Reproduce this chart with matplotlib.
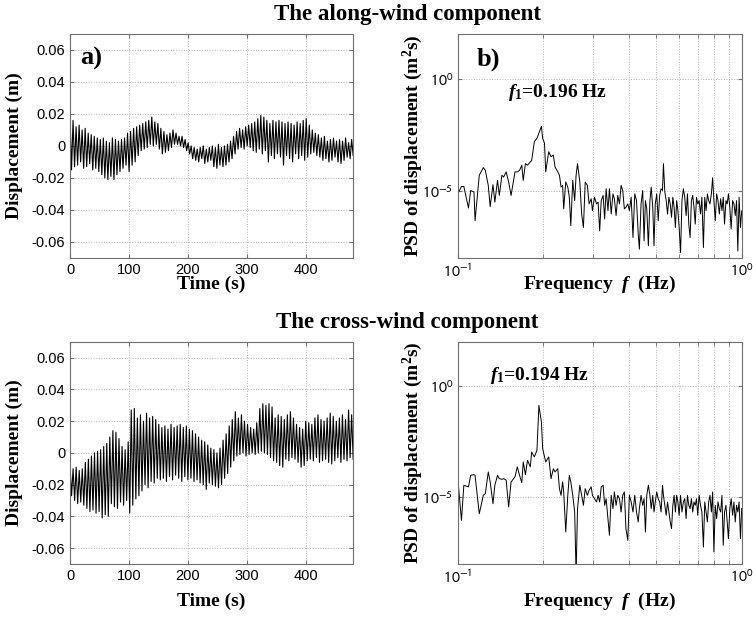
import numpy as np
import matplotlib
matplotlib.use("Agg")
import matplotlib.pyplot as plt
from matplotlib.ticker import FixedLocator, NullFormatter, NullLocator

# --- time series: peak / trough of each oscillation cycle, in mm ---
along_peaks = [18, 16, 12, 13, 10, 11, 8, 7, 6, 5,
               4, 5, 3, 2, 5, 4, 3, 4, 5, 8,
               9, 11, 12, 13, 14, 15, 16, 18, 15, 14,
               11, 9, 7, 8, 10, 8, 6, 6, 4, 2,
               0, -1, -2, -1, 0, -2, -1, 0, -1, 1,
               -1, 0, 1, 3, 6, 9, 11, 10, 12, 13,
               14, 15, 17, 19, 18, 16, 14, 16, 15, 16,
               15, 14, 15, 14, 13, 15, 14, 16, 17, 13,
               10, 8, 7, 5, 6, 3, 4, 5, 3, 4,
               3, 5, 2, 4]
along_troughs = [-15, -13, -12, -10, -14, -13, -11, -15, -14, -16,
                 -18, -20, -21, -19, -21, -18, -16, -14, -12, -16,
                 -12, -10, -6, -3, -2, -1, 1, 0, 1, -2,
                 -5, -4, -3, -1, 1, 1, 0, -1, -3, -5,
                 -8, -9, -10, -8, -11, -10, -9, -13, -14, -12,
                 -13, -12, -10, -8, -5, -2, -1, -2, 0, -1,
                 -3, -4, -2, -5, -3, -10, -6, -8, -5, -7,
                 -12, -6, -8, -10, -5, -8, -6, -9, -7, -5,
                 -4, -6, -7, -9, -8, -10, -9, -7, -10, -11,
                 -9, -7, -8, -6]

cross_peaks = [-8, -10, -9, -11, -10, -6, -4, -2, 0, 1,
               2, 4, 6, 10, 14, 13, 9, 4, 2, 7,
               27, 28, 22, 24, 20, 25, 22, 23, 21, 18,
               16, 17, 15, 18, 16, 17, 18, 16, 17, 15,
               14, 12, 10, 8, 7, 5, 3, 2, 0, 3,
               8, 12, 17, 21, 26, 22, 24, 20, 18, 16,
               15, 19, 28, 31, 30, 31, 29, 22, 24, 23,
               21, 24, 26, 22, 18, 16, 15, 20, 19, 18,
               22, 24, 21, 20, 22, 25, 23, 20, 22, 24,
               21, 27, 24]
cross_troughs = [-27, -30, -32, -31, -33, -35, -37, -36, -38, -37,
                 -41, -39, -40, -32, -34, -35, -31, -33, -30, -38,
                 -33, -29, -27, -24, -20, -22, -18, -19, -16, -17,
                 -16, -18, -15, -17, -14, -16, -18, -15, -17, -16,
                 -18, -17, -19, -20, -23, -19, -20, -21, -22, -20,
                 -16, -13, -9, -5, -2, -1, 0, -2, -1, 0,
                 -1, 0, 1, 0, -1, -3, -5, -6, -8, -9,
                 -4, -5, -3, -4, -6, -9, -8, -5, -4, -5,
                 -3, -6, -5, -4, -6, -7, -5, -3, -6, -4,
                 -5, -3, -4]

record_length = 480  # s

# --- PSD: frequency (Hz) and log10 of PSD (m^2 s) ---
freq = [0.100, 0.103, 0.105, 0.109, 0.111, 0.114, 0.115, 0.119, 0.123, 0.125,
        0.128, 0.130, 0.133, 0.135, 0.138, 0.140, 0.143, 0.145, 0.148, 0.151,
        0.154, 0.159, 0.162, 0.165, 0.168, 0.170, 0.173, 0.176, 0.180, 0.182,
        0.186, 0.190, 0.193, 0.197, 0.199, 0.202, 0.204, 0.209, 0.213, 0.217,
        0.220, 0.225, 0.228, 0.231, 0.234, 0.236, 0.240, 0.244, 0.247, 0.250,
        0.254, 0.258, 0.261, 0.264, 0.269, 0.273, 0.277, 0.281, 0.286, 0.290,
        0.295, 0.298, 0.303, 0.308, 0.312, 0.316, 0.320, 0.325, 0.329, 0.333,
        0.338, 0.342, 0.347, 0.352, 0.356, 0.361, 0.366, 0.371, 0.376, 0.381,
        0.386, 0.391, 0.397, 0.402, 0.408, 0.414, 0.420, 0.426, 0.432, 0.436,
        0.442, 0.448, 0.453, 0.458, 0.463, 0.469, 0.475, 0.480, 0.486, 0.491,
        0.496, 0.502, 0.508, 0.514, 0.520, 0.526, 0.530, 0.536, 0.542, 0.548,
        0.554, 0.560, 0.566, 0.572, 0.578, 0.584, 0.590, 0.596, 0.602, 0.609,
        0.616, 0.623, 0.630, 0.637, 0.644, 0.651, 0.658, 0.665, 0.672, 0.679,
        0.686, 0.693, 0.700, 0.708, 0.716, 0.724, 0.733, 0.741, 0.749, 0.757,
        0.765, 0.773, 0.782, 0.790, 0.798, 0.807, 0.816, 0.825, 0.834, 0.843,
        0.852, 0.861, 0.870, 0.880, 0.889, 0.898, 0.908, 0.918, 0.929, 0.939,
        0.949, 0.959, 0.969, 0.979, 0.990, 1.000]

along_psd_log = [-5.14, -4.81, -4.81, -5.77, -4.99, -5.06, -6.34, -4.31, -3.97, -4.09,
                 -4.76, -5.71, -4.73, -5.51, -4.54, -5.21, -4.31, -4.39, -4.16, -4.61,
                 -5.21, -4.16, -4.16, -4.09, -3.86, -4.54, -3.79, -3.86, -3.71, -3.66,
                 -2.81, -2.66, -2.43, -2.13, -2.66, -2.88, -4.16, -3.26, -3.48, -3.41,
                 -3.94, -4.16, -4.31, -4.84, -4.76, -5.81, -4.61, -4.84, -5.29, -6.56,
                 -4.54, -5.44, -4.31, -3.79, -4.61, -6.04, -6.64, -4.61, -4.76, -5.59,
                 -5.36, -5.89, -5.29, -5.59, -5.51, -6.79, -5.44, -5.21, -6.26, -4.91,
                 -5.89, -4.91, -6.04, -5.14, -5.36, -6.11, -5.21, -5.59, -4.76, -4.99,
                 -5.81, -5.74, -5.59, -5.89, -5.29, -7.09, -5.14, -5.44, -6.94, -7.61,
                 -5.59, -4.99, -7.24, -5.44, -5.81, -7.46, -5.44, -4.84, -5.74, -7.46,
                 -5.59, -5.14, -6.34, -5.21, -4.91, -4.99, -3.79, -5.06, -5.44, -6.04,
                 -5.29, -5.59, -6.19, -5.29, -5.74, -6.64, -5.44, -5.89, -6.64, -7.76,
                 -5.44, -4.91, -5.29, -6.11, -5.14, -6.49, -7.09, -5.44, -5.21, -5.74,
                 -6.49, -5.29, -5.59, -5.44, -6.04, -5.29, -7.54, -5.29, -5.89, -5.14,
                 -5.44, -5.59, -5.14, -4.42, -5.44, -6.34, -5.14, -5.44, -6.04, -5.36,
                 -5.89, -5.29, -6.49, -5.44, -5.59, -5.14, -5.74, -6.71, -5.44, -5.59,
                 -6.11, -5.44, -7.69, -5.29, -6.64, -5.90]

cross_psd_log = [-4.16, -6.04, -4.46, -4.53, -4.01, -3.98, -4.01, -5.74, -4.91, -4.83,
                 -3.86, -4.31, -5.29, -4.46, -4.01, -4.16, -4.19, -4.16, -4.23, -5.43,
                 -4.31, -4.08, -3.63, -4.01, -4.34, -3.41, -3.98, -3.33, -3.63, -2.96,
                 -3.18, -2.88, -0.86, -1.61, -2.81, -3.18, -3.41, -3.18, -4.16, -3.71,
                 -3.86, -3.71, -4.61, -4.91, -4.31, -4.76, -6.56, -4.91, -4.01, -4.31,
                 -4.91, -5.66, -8.50, -5.51, -4.46, -4.91, -5.36, -4.61, -4.91, -4.68,
                 -4.53, -4.91, -5.06, -5.21, -4.91, -5.21, -4.53, -4.46, -5.36, -5.06,
                 -5.96, -6.71, -4.91, -5.51, -4.76, -5.36, -4.91, -5.06, -5.66, -4.91,
                 -4.76, -6.41, -6.94, -4.91, -5.21, -5.66, -4.91, -5.66, -6.11, -5.51,
                 -4.91, -5.36, -5.06, -6.56, -4.91, -4.46, -4.91, -5.51, -4.91, -5.66,
                 -5.21, -4.76, -5.06, -5.21, -5.66, -4.46, -4.91, -5.36, -5.81, -5.21,
                 -5.66, -6.11, -6.41, -5.36, -4.91, -5.66, -4.91, -5.21, -5.81, -4.91,
                 -5.66, -5.21, -5.06, -5.96, -4.91, -5.36, -5.51, -5.06, -5.66, -5.21,
                 -5.36, -5.06, -5.81, -4.91, -5.36, -5.66, -7.24, -5.21, -5.66, -6.11,
                 -5.21, -4.91, -5.66, -4.76, -7.46, -5.36, -5.96, -5.21, -5.51, -5.66,
                 -4.91, -7.16, -5.66, -5.36, -6.11, -6.86, -5.51, -5.06, -5.81, -5.21,
                 -6.11, -5.36, -5.66, -5.21, -6.86, -5.50]

# --- labels ---
disp_ticks = [-0.06, -0.04, -0.02, 0, 0.02, 0.04, 0.06]
disp_tick_labels = ["-0.06", "-0.04", "-0.02", "0", "0.02", "0.04", "0.06"]
time_ticks = [0, 100, 200, 300, 400]
along_f1 = "0.196"
cross_f1 = "0.194"

SERIF = "Liberation Serif"
SANS = "Liberation Sans"
GRID = "#b4b4b4"
EDGE = "#6e6e6e"

plt.rcParams["font.family"] = SANS
plt.rcParams["font.size"] = 10.5
plt.rcParams["mathtext.fontset"] = "custom"
plt.rcParams["mathtext.rm"] = "Liberation Serif:bold"
plt.rcParams["mathtext.it"] = "Liberation Serif:italic:bold"
plt.rcParams["mathtext.bf"] = "Liberation Serif:bold"

label_font = dict(family=SERIF, fontweight="bold", fontsize=14)


def style_axes(ax):
    for s in ax.spines.values():
        s.set_color(EDGE)
        s.set_linewidth(0.8)
    ax.tick_params(which="both", direction="in", color=EDGE, length=3,
                   labelcolor="black", top=True, right=True)


def zigzag(peaks, troughs):
    # alternate peak / trough of each cycle (values in mm -> m)
    y = np.empty(len(peaks) * 2)
    y[0::2] = peaks
    y[1::2] = troughs
    t = np.linspace(0, record_length, len(y))
    return t, y / 1000.0


def draw_time(ax, peaks, troughs, xlab_y):
    t, y = zigzag(peaks, troughs)
    ax.plot(t, y, color="black", lw=0.8)
    ax.set_xlim(0, record_length)
    ax.set_ylim(-0.07, 0.07)
    ax.set_xticks(time_ticks)
    ax.set_yticks(disp_ticks, labels=disp_tick_labels)
    ax.grid(True, color=GRID, linestyle=":", lw=0.7)
    ax.set_axisbelow(True)
    ax.set_xlabel("Time (s)", va="center", **label_font)
    ax.set_ylabel("Displacement (m)", va="center", **label_font)
    ax.xaxis.set_label_coords(0.5, xlab_y)
    ax.yaxis.set_label_coords(-0.198, 0.5)
    style_axes(ax)


def draw_psd(ax, psd_log, xlab_y):
    ax.plot(freq, 10.0 ** np.array(psd_log), color="black", lw=0.7)
    ax.set_xscale("log")
    ax.set_yscale("log")
    ax.set_xlim(0.1, 1.0)
    ax.set_ylim(1e-8, 1e2)
    ax.set_xticks([0.1, 1.0], labels=[r"$10^{-1}$", r"$10^{0}$"])
    ax.xaxis.set_minor_locator(FixedLocator([0.2, 0.3, 0.4, 0.5, 0.6, 0.7, 0.8, 0.9]))
    ax.xaxis.set_minor_formatter(NullFormatter())
    ax.set_yticks([1e-5, 1.0], labels=[r"$10^{-5}$", r"$10^{0}$"])
    ax.yaxis.set_minor_locator(NullLocator())
    for lbl in ax.get_xticklabels() + ax.get_yticklabels():
        lbl.set_math_fontfamily("stixsans")
        lbl.set_fontsize(11.5)
    ax.grid(True, which="both", color=GRID, linestyle=":", lw=0.7)
    ax.set_axisbelow(True)
    ax.set_xlabel(r"Frequency  $f$  (Hz)", va="center", **label_font)
    ax.set_ylabel(r"PSD of displacement (m$^{2}$s)", va="center", **label_font)
    ax.xaxis.set_label_coords(0.5, xlab_y)
    ax.yaxis.set_label_coords(-0.16, 0.5)
    style_axes(ax)


fig = plt.figure(figsize=(7.53, 6.17), dpi=100)

ax_a = fig.add_axes([0.093, 0.582, 0.376, 0.363])
ax_b = fig.add_axes([0.608, 0.582, 0.377, 0.363])
ax_c = fig.add_axes([0.093, 0.086, 0.376, 0.360])
ax_d = fig.add_axes([0.608, 0.086, 0.377, 0.360])

draw_time(ax_a, along_peaks, along_troughs, -0.12)
draw_time(ax_c, cross_peaks, cross_troughs, -0.17)
draw_psd(ax_b, along_psd_log, -0.12)
draw_psd(ax_d, cross_psd_log, -0.17)

ax_a.text(0.035, 0.94, "a)", transform=ax_a.transAxes, ha="left", va="top",
          family=SERIF, fontweight="bold", fontsize=19)
ax_b.text(0.067, 0.94, "b)", transform=ax_b.transAxes, ha="left", va="top",
          family=SERIF, fontweight="bold", fontsize=19)

ax_b.text(0.15, 10 ** -0.62, r"$f_{\mathrm{1}}$=" + along_f1 + " Hz", ha="left", va="center",
          family=SERIF, fontweight="bold", fontsize=14)
ax_d.text(0.13, 10 ** 0.5, r"$f_{\mathrm{1}}$=" + cross_f1 + " Hz", ha="left", va="center",
          family=SERIF, fontweight="bold", fontsize=14)

fig.text(0.541, 0.976, "The along-wind component", ha="center", va="center",
         family=SERIF, fontweight="bold", fontsize=16.5)
fig.text(0.541, 0.478, "The cross-wind component", ha="center", va="center",
         family=SERIF, fontweight="bold", fontsize=16.5)

fig.savefig("out.png", dpi=100)
